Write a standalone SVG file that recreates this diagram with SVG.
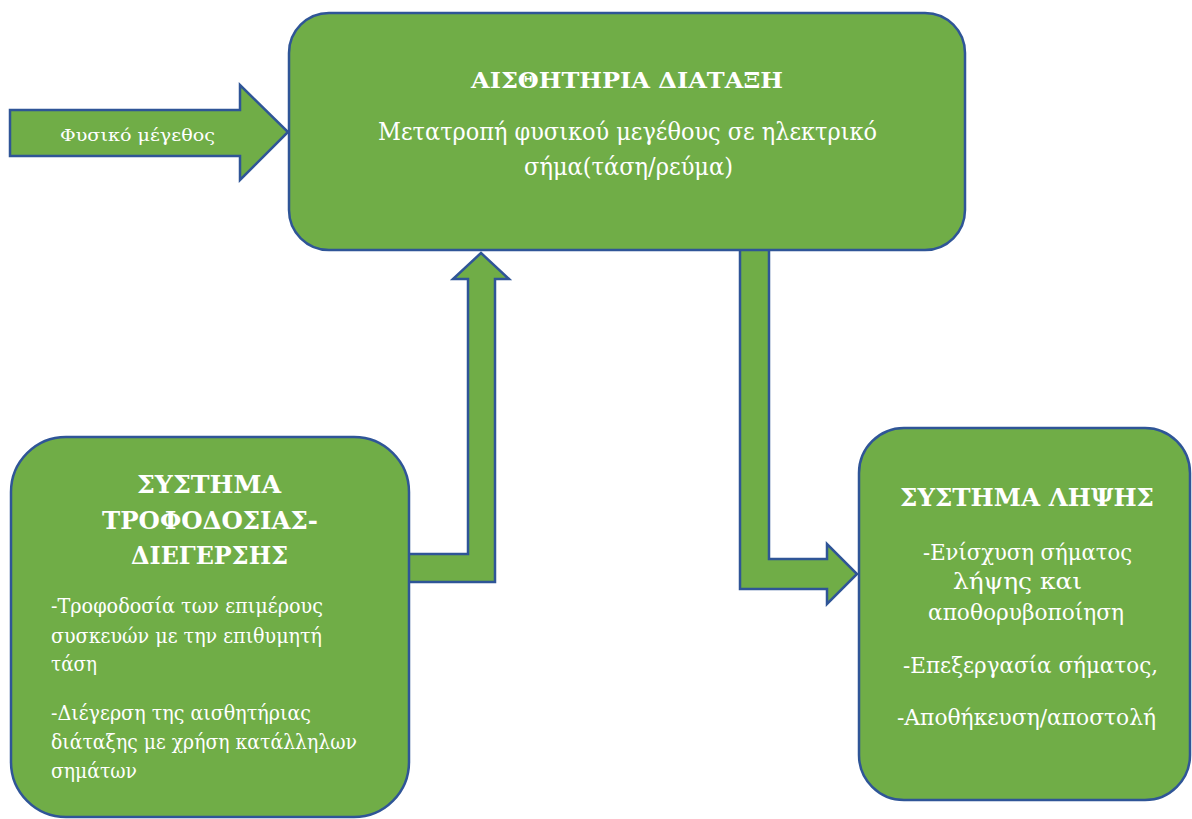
<svg xmlns="http://www.w3.org/2000/svg" width="1192" height="819" viewBox="0 0 1192 819">
<style>
.shape{fill:#70AD47;stroke:#2F5597;stroke-width:2.5;stroke-linejoin:miter}
.t{font-family:"DejaVu Serif","Liberation Serif",serif;fill:#ffffff}
.b{font-weight:bold}
</style>
<rect width="1192" height="819" fill="#ffffff"/>
<g id="connectors">
<polygon class="shape" points="10,110 240,110 240,85 288,132 240,180 240,156 10,156"/>
<polygon class="shape" points="405,554 468,554 468,279 453,279 481,253 509,279 495,279 495,582 405,582"/>
<polygon class="shape" points="740,248 769,248 769,559 827,559 827,544 857,574 827,604 827,589 740,589"/>
<text class="t" x="60" y="141" font-size="17" textLength="155" lengthAdjust="spacingAndGlyphs">Φυσικό μέγεθος</text>
</g>
<g id="node-sensor">
<rect class="shape" x="289" y="13" width="676" height="237" rx="40"/>
<text class="t b" x="471" y="88" font-size="23" textLength="312" lengthAdjust="spacingAndGlyphs">ΑΙΣΘΗΤΗΡΙΑ ΔΙΑΤΑΞΗ</text>
<text class="t" x="378" y="140" font-size="23.5" textLength="499" lengthAdjust="spacingAndGlyphs">Μετατροπή φυσικού μεγέθους σε ηλεκτρικό</text>
<text class="t" x="524" y="175" font-size="23.5" textLength="209" lengthAdjust="spacingAndGlyphs">σήμα(τάση/ρεύμα)</text>
</g>
<g id="node-power">
<rect class="shape" x="11" y="437" width="398" height="380" rx="55"/>
<text class="t b" x="137" y="493" font-size="24" textLength="144" lengthAdjust="spacingAndGlyphs">ΣΥΣΤΗΜΑ</text>
<text class="t b" x="102" y="529" font-size="24" textLength="216" lengthAdjust="spacingAndGlyphs">ΤΡΟΦΟΔΟΣΙΑΣ-</text>
<text class="t b" x="131" y="564" font-size="24" textLength="157" lengthAdjust="spacingAndGlyphs">ΔΙΕΓΕΡΣΗΣ</text>
<text class="t" x="51" y="613" font-size="19.5" textLength="272" lengthAdjust="spacingAndGlyphs">-Τροφοδοσία των επιμέρους</text>
<text class="t" x="51" y="643" font-size="19.5" textLength="271" lengthAdjust="spacingAndGlyphs">συσκευών με την επιθυμητή</text>
<text class="t" x="51" y="671" font-size="19.5" textLength="46" lengthAdjust="spacingAndGlyphs">τάση</text>
<text class="t" x="51" y="720" font-size="19.5" textLength="260" lengthAdjust="spacingAndGlyphs">-Διέγερση της αισθητήριας</text>
<text class="t" x="51" y="749" font-size="19.5" textLength="306" lengthAdjust="spacingAndGlyphs">διάταξης με χρήση κατάλληλων</text>
<text class="t" x="51" y="778" font-size="19.5" textLength="86" lengthAdjust="spacingAndGlyphs">σημάτων</text>
</g>
<g id="node-receiver">
<rect class="shape" x="859" y="428" width="331" height="372" rx="45"/>
<text class="t b" x="900" y="506" font-size="24" textLength="254" lengthAdjust="spacingAndGlyphs">ΣΥΣΤΗΜΑ ΛΗΨΗΣ</text>
<text class="t" x="923" y="560" font-size="21.5" textLength="209" lengthAdjust="spacingAndGlyphs">-Ενίσχυση σήματος</text>
<text class="t" x="953" y="589" font-size="21.5" textLength="129" lengthAdjust="spacingAndGlyphs">λήψης και</text>
<text class="t" x="928" y="620" font-size="21.5" textLength="196" lengthAdjust="spacingAndGlyphs">αποθορυβοποίηση</text>
<text class="t" x="903" y="673" font-size="21.5" textLength="255" lengthAdjust="spacingAndGlyphs">-Επεξεργασία σήματος,</text>
<text class="t" x="897" y="725" font-size="21.5" textLength="259" lengthAdjust="spacingAndGlyphs">-Αποθήκευση/αποστολή</text>
</g>
</svg>
